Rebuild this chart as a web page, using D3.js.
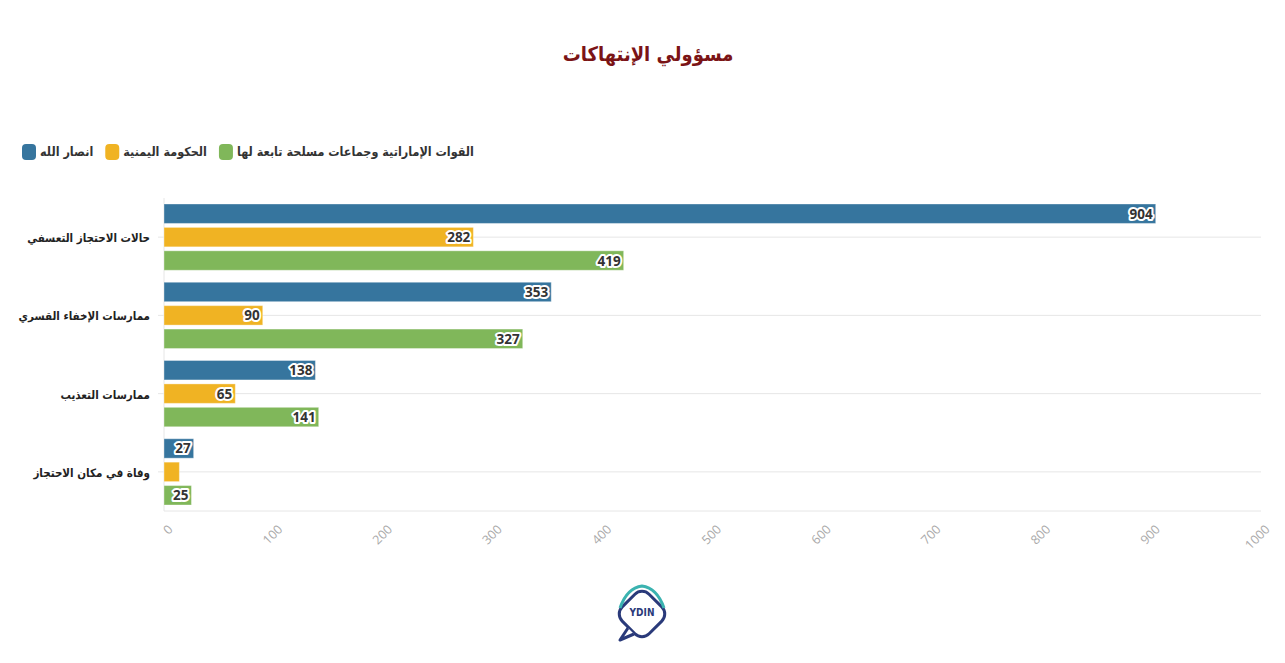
<!DOCTYPE html>
<html>
<head>
<meta charset="utf-8">
<script src="https://cdn.jsdelivr.net/npm/d3@7"></script>
<style>
  body { margin: 0; background: #fff; }
  svg text { font-family: "DejaVu Sans Condensed", "DejaVu Sans", sans-serif; }
</style>
</head>
<body>
<div id="myChart"></div>
<script>
// chart data
let categories = ["حالات الاحتجاز التعسفي", "ممارسات الإخفاء القسري", "ممارسات التعذيب", "وفاة في مكان الاحتجاز"];
let seriesNames = ["انصار الله", "الحكومة اليمنية", "القوات الإماراتية وجماعات مسلحة تابعة لها"];
let ansarAllah = [904, 353, 138, 27];
let yemeniGov = [282, 90, 65, 14];
let uaeForces = [419, 327, 141, 25];
let xTicks = [0, 100, 200, 300, 400, 500, 600, 700, 800, 900, 1000];
let colors = ["#36759e", "#f0b323", "#80b75a"];

let seriesValues = [ansarAllah, yemeniGov, uaeForces];

let width = 1285, height = 663;
let margin = {top: 198, right: 25, bottom: 152, left: 164};
let innerW = width - margin.left - margin.right,
    innerH = height - margin.top - margin.bottom;

let svg = d3.select("#myChart")
    .append("svg")
        .attr("width", width)
        .attr("height", height);

// title
svg.append("text")
    .attr("x", 648)
    .attr("y", 61)
    .attr("text-anchor", "middle")
    .style("font-size", "20px")
    .style("font-weight", "bold")
    .style("fill", "#7b1416")
    .text("مسؤولي الإنتهاكات");

// legend, laid out left to right from measured text widths
let legend = svg.append("g").attr("transform", "translate(22,144)");
let lx = 0;
seriesNames.forEach(function (name, i) {
    let g = legend.append("g").attr("transform", "translate(" + lx + ",0)");
    g.append("rect")
        .attr("width", 14).attr("height", 16)
        .attr("rx", 4)
        .style("fill", colors[i]);
    let t = g.append("text")
        .attr("x", 18).attr("y", 12)
        .attr("text-anchor", "start")
        .style("font-size", "12.5px")
        .style("font-weight", "bold")
        .style("fill", "#333")
        .text(name);
    lx += 18 + t.node().getComputedTextLength() + 12;
});

let plot = svg.append("g")
    .attr("transform", "translate(" + margin.left + "," + margin.top + ")");

let x = d3.scaleLinear()
    .domain([0, 1000])
    .range([0, innerW + 1]);

let y = d3.scaleBand()
    .domain(categories)
    .range([0, innerH]);

let ySub = d3.scaleBand()
    .domain(d3.range(seriesNames.length))
    .range([6, y.bandwidth() - 6])
    .paddingInner(0.17);

// gridlines at category centres and bottom
plot.append("g")
    .selectAll("line")
    .data(categories)
    .enter()
    .append("line")
        .attr("x1", -6).attr("x2", innerW + 1)
        .attr("y1", function (d) { return y(d) + y.bandwidth() / 2; })
        .attr("y2", function (d) { return y(d) + y.bandwidth() / 2; })
        .style("stroke", "#e6e6e6");

plot.append("line")
    .attr("x1", 0).attr("x2", innerW + 1)
    .attr("y1", innerH).attr("y2", innerH)
    .style("stroke", "#e6e6e6");
plot.append("line")
    .attr("x1", 0).attr("x2", 0)
    .attr("y1", 0).attr("y2", innerH)
    .style("stroke", "#e6e6e6");

// x axis
let xAxis = plot.append("g")
    .attr("transform", "translate(0," + innerH + ")")
    .call(d3.axisBottom(x).tickValues(xTicks).tickFormat(d3.format("d")).tickSize(0).tickPadding(0));
xAxis.select(".domain").remove();
xAxis.selectAll("text")
    .attr("dy", "0.35em")
    .attr("text-anchor", "end")
    .attr("transform", "translate(6,16) rotate(-45)")
    .style("font-family", "'Open Sans', sans-serif")
    .style("font-size", "12.5px")
    .style("fill", "#aaaaaa");

// category labels
plot.append("g")
    .selectAll("text")
    .data(categories)
    .enter()
    .append("text")
        .attr("x", -14)
        .attr("y", function (d) { return y(d) + y.bandwidth() / 2 + 5; })
        .attr("text-anchor", "end")
        .style("font-size", "11.5px")
        .style("font-weight", "bold")
        .style("fill", "#222")
        .text(function (d) { return d; });

// bars
let rows = [];
categories.forEach(function (c, ci) {
    seriesValues.forEach(function (vals, si) {
        rows.push({cat: c, s: si, v: vals[ci]});
    });
});

plot.append("g")
    .selectAll("rect")
    .data(rows)
    .enter()
    .append("rect")
        .attr("x", 0)
        .attr("y", function (d) { return y(d.cat) + ySub(d.s); })
        .attr("width", function (d) { return x(d.v); })
        .attr("height", ySub.bandwidth())
        .style("fill", function (d) { return colors[d.s]; })
        .style("stroke", "rgba(255,255,255,0.35)")
        .style("stroke-width", 1);

// value labels inside bar ends (hidden when bar too short)
plot.append("g")
    .selectAll("text")
    .data(rows.filter(function (d) { return x(d.v) > 22; }))
    .enter()
    .append("text")
        .attr("x", function (d) { return x(d.v) - 3; })
        .attr("y", function (d) { return y(d.cat) + ySub(d.s) + ySub.bandwidth() / 2 + 5; })
        .attr("text-anchor", "end")
        .style("font-family", "'Open Sans', sans-serif")
        .style("font-size", "13.5px")
        .style("font-weight", "bold")
        .style("fill", "#333")
        .style("stroke", "#fff")
        .style("stroke-width", 4)
        .style("stroke-linejoin", "round")
        .style("paint-order", "stroke")
        .text(function (d) { return d.v; });

// logo
let logo = svg.append("g").attr("transform", "translate(642,614)");
logo.append("rect")
    .attr("x", -19).attr("y", -19)
    .attr("width", 38).attr("height", 38)
    .attr("rx", 10)
    .attr("transform", "rotate(45)")
    .style("fill", "#fff")
    .style("stroke", "#2a3a7a")
    .style("stroke-width", 3);
logo.append("path")
    .attr("d", "M-22,-6 Q-15,-26 0,-28 Q15,-26 22,-6")
    .style("fill", "none")
    .style("stroke", "#3bb3b0")
    .style("stroke-width", 3);
logo.append("path")
    .attr("d", "M-14,14 L-22,26 L-8,20")
    .style("fill", "#fff")
    .style("stroke", "#2a3a7a")
    .style("stroke-width", 3)
    .style("stroke-linejoin", "round");
logo.append("text")
    .attr("y", 2)
    .attr("text-anchor", "middle")
    .style("font-size", "10px")
    .style("font-weight", "bold")
    .style("fill", "#2a3a7a")
    .text("YDIN");
</script>
</body>
</html>
